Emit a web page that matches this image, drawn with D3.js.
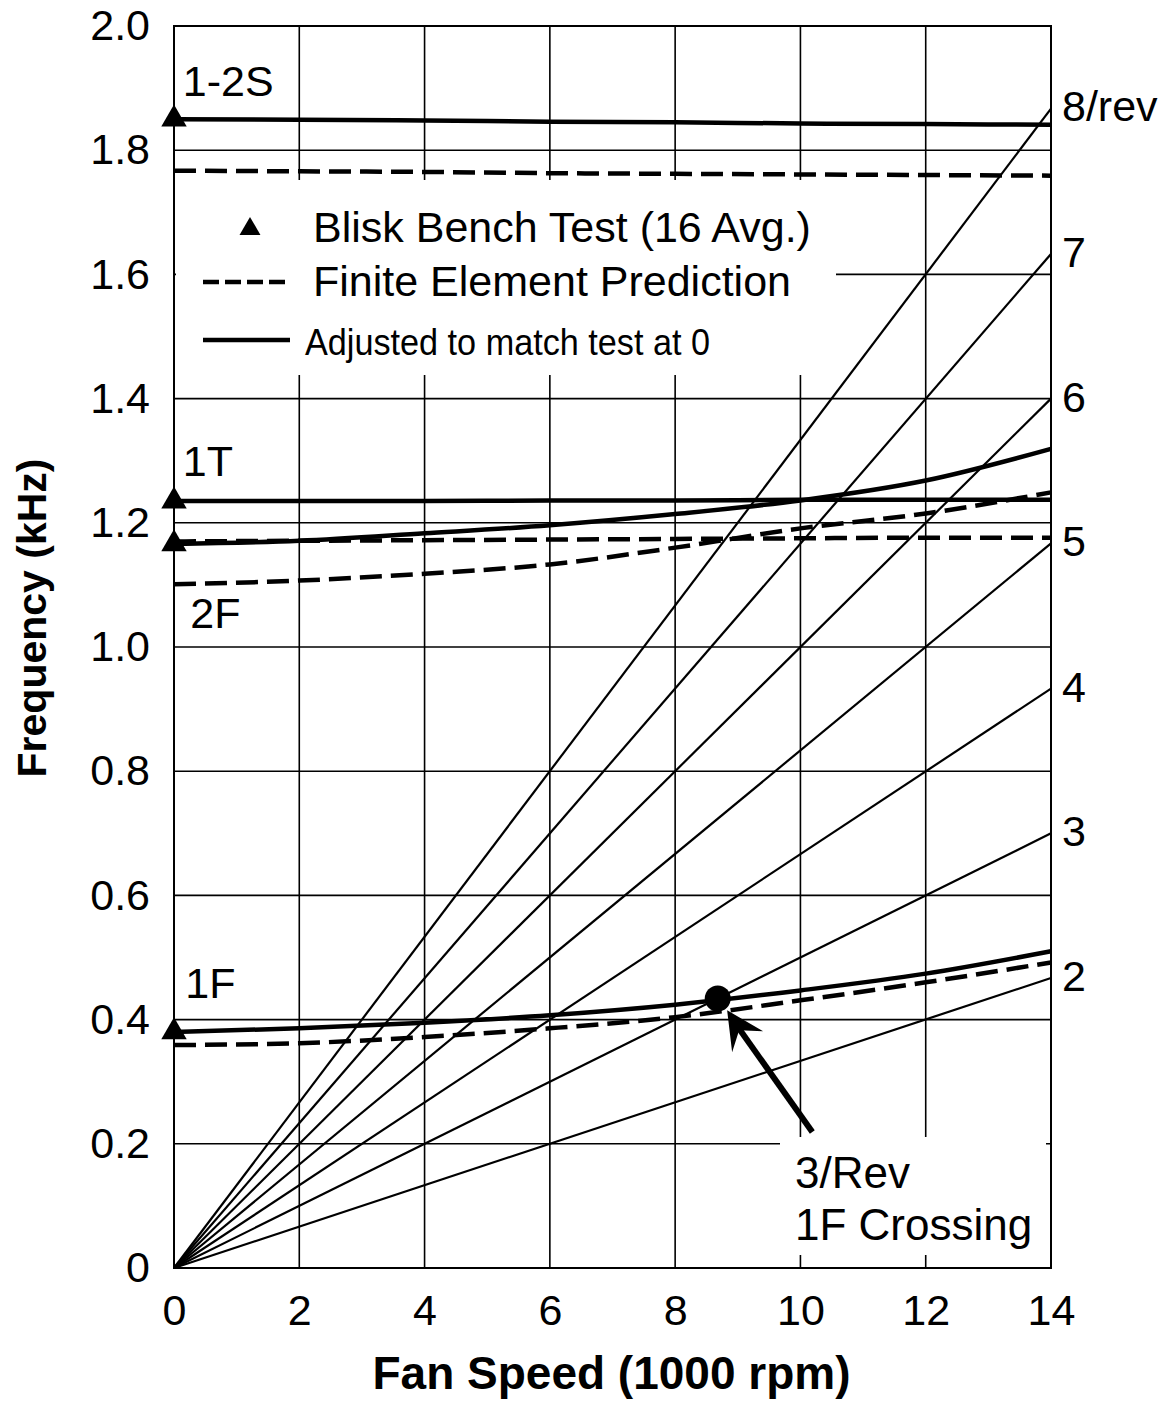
<!DOCTYPE html>
<html>
<head>
<meta charset="utf-8">
<script src="https://cdn.jsdelivr.net/npm/d3@7"></script>
<style>
body { margin: 0; background: #fff; }
text { font-family: Arial, "Liberation Sans", sans-serif; fill: #000; }
</style>
</head>
<body>
<div id="chart"></div>
<script>
// fan speed (1000 rpm) where the mode curves were read
var speeds = [0, 2, 4, 6, 8, 10, 12, 14];

// adjusted (solid) and finite element (dashed) curves, kHz
var s12Adj = [1.850, 1.849, 1.848, 1.846, 1.845, 1.843, 1.842, 1.841];
var s12Fe  = [1.767, 1.766, 1.765, 1.763, 1.762, 1.761, 1.760, 1.759];
var t1Adj  = [1.235, 1.235, 1.235, 1.236, 1.236, 1.237, 1.237, 1.237];
var t1Fe   = [1.170, 1.171, 1.172, 1.173, 1.174, 1.175, 1.176, 1.176];
var f2Adj  = [1.166, 1.171, 1.183, 1.196, 1.214, 1.236, 1.268, 1.319];
var f2Fe   = [1.101, 1.107, 1.118, 1.133, 1.160, 1.191, 1.215, 1.249];
var f1Adj  = [0.380, 0.386, 0.395, 0.407, 0.424, 0.447, 0.474, 0.510];
var f1Fe   = [0.359, 0.362, 0.372, 0.386, 0.404, 0.431, 0.460, 0.492];

// bench test values at 0 rpm
var testModes = ['1-2S', '1T', '2F', '1F'];
var testFreq = [1.850, 1.235, 1.166, 0.380];

// engine order lines, value at 14000 rpm
var revOrders = ['2', '3', '4', '5', '6', '7', '8/rev'];
var revEnd = [0.467, 0.700, 0.933, 1.167, 1.400, 1.633, 1.867];

// 3/rev 1F crossing
var crossing = [8.68, 0.434];
var arrowTip = [8.83, 0.415];
var arrowTail = [10.19, 0.219];

var xTicks = [0, 2, 4, 6, 8, 10, 12, 14];
var yTicks = [0, 0.2, 0.4, 0.6, 0.8, 1.0, 1.2, 1.4, 1.6, 1.8, 2.0];

var margin = { top: 26, right: 118, bottom: 133, left: 174 },
  width = 1169 - margin.left - margin.right,
  height = 1401 - margin.top - margin.bottom;

var svg = d3.select('#chart').append('svg')
  .attr('width', 1169)
  .attr('height', 1401)
  .style('background', '#fff');

var chart = svg.append('g')
  .attr('transform', 'translate(' + margin.left + ',' + margin.top + ')');

var xScale = d3.scaleLinear().domain([0, 14]).range([0, width]);
var yScale = d3.scaleLinear().domain([0, 2]).range([height, 0]);

// grid
chart.append('g')
  .selectAll('line.v').data(xTicks).enter().append('line')
  .attr('x1', function(d) { return xScale(d); })
  .attr('x2', function(d) { return xScale(d); })
  .attr('y1', 0).attr('y2', height)
  .style('stroke', '#000').style('stroke-width', 1.6);

chart.append('g')
  .selectAll('line.h').data(yTicks).enter().append('line')
  .attr('x1', 0).attr('x2', width)
  .attr('y1', function(d) { return yScale(d); })
  .attr('y2', function(d) { return yScale(d); })
  .style('stroke', '#000').style('stroke-width', 1.6);

// axes (labels only)
var yAxis = chart.append('g')
  .call(d3.axisLeft(yScale).tickValues(yTicks).tickSize(0).tickPadding(24)
    .tickFormat(function(d) { return d === 0 ? '0' : d3.format('.1f')(d); }));
var xAxis = chart.append('g')
  .attr('transform', 'translate(0,' + height + ')')
  .call(d3.axisBottom(xScale).tickValues(xTicks).tickSize(0).tickPadding(26));
[xAxis, yAxis].forEach(function(a) {
  a.select('.domain').remove();
  a.selectAll('text').style('font-size', '43px').style('font-family', 'Arial, "Liberation Sans", sans-serif');
});

// engine order lines
chart.selectAll('line.rev').data(revEnd).enter().append('line')
  .attr('x1', xScale(0)).attr('y1', yScale(0))
  .attr('x2', xScale(14))
  .attr('y2', function(d) { return yScale(d); })
  .style('stroke', '#000').style('stroke-width', 2.2);

chart.selectAll('text.rev').data(revEnd).enter().append('text')
  .attr('x', width + 11)
  .attr('y', function(d) { return yScale(d); })
  .attr('dy', '0.3em')
  .style('font-size', '43px')
  .text(function(d, i) { return revOrders[i]; });

// white boxes behind the legend and the note
chart.append('rect')
  .attr('x', 2).attr('y', 154).attr('width', 660).attr('height', 195)
  .style('fill', '#fff');
chart.append('rect')
  .attr('x', 606).attr('y', 1111).attr('width', 266).attr('height', 118)
  .style('fill', '#fff');

// mode curves
var line = d3.line()
  .x(function(d, i) { return xScale(speeds[i]); })
  .y(function(d) { return yScale(d); })
  .curve(d3.curveMonotoneX);

[s12Fe, t1Fe, f2Fe, f1Fe].forEach(function(s) {
  chart.append('path').attr('d', line(s))
    .style('fill', 'none').style('stroke', '#000')
    .style('stroke-width', 4.5).style('stroke-dasharray', '22,9');
});
[s12Adj, t1Adj, f2Adj, f1Adj].forEach(function(s) {
  chart.append('path').attr('d', line(s))
    .style('fill', 'none').style('stroke', '#000')
    .style('stroke-width', 4.5);
});

// test triangles
var tri = d3.symbol().type(d3.symbolTriangle).size(280);
chart.selectAll('path.test').data(testFreq).enter().append('path')
  .attr('d', tri)
  .attr('transform', function(d) { return 'translate(' + xScale(0) + ',' + yScale(d) + ')'; })
  .style('fill', '#000');

// mode names
chart.append('text').attr('x', xScale(0.14)).attr('y', yScale(1.888)).style('font-size', '43px').text(testModes[0]);
chart.append('text').attr('x', xScale(0.14)).attr('y', yScale(1.276)).style('font-size', '43px').text(testModes[1]);
chart.append('text').attr('x', xScale(0.26)).attr('y', yScale(1.031)).style('font-size', '43px').text(testModes[2]);
chart.append('text').attr('x', xScale(0.18)).attr('y', yScale(0.434)).style('font-size', '43px').text(testModes[3]);

// crossing marker and arrow
chart.append('circle')
  .attr('cx', xScale(crossing[0])).attr('cy', yScale(crossing[1]))
  .attr('r', 13).style('fill', '#000');

var tx = xScale(arrowTip[0]), ty = yScale(arrowTip[1]);
var ex = xScale(arrowTail[0]), ey = yScale(arrowTail[1]);
chart.append('line')
  .attr('x1', tx + 6).attr('y1', ty + 10).attr('x2', ex).attr('y2', ey)
  .style('stroke', '#000').style('stroke-width', 6);
chart.append('path')
  .attr('d', 'M' + tx + ',' + ty + 'L' + (tx + 5) + ',' + (ty + 42) + 'L' + (tx + 12) + ',' + (ty + 20) + 'L' + (tx + 36) + ',' + (ty + 21) + 'Z')
  .style('fill', '#000');

chart.append('text').attr('x', 621).attr('y', 1162).style('font-size', '44px').text('3/Rev');
chart.append('text').attr('x', 621).attr('y', 1214).style('font-size', '44px').text('1F Crossing');

// legend
var legend = chart.append('g').attr('transform', 'translate(0,0)');
legend.append('path')
  .attr('d', d3.symbol().type(d3.symbolTriangle).size(190))
  .attr('transform', 'translate(76,203)')
  .style('fill', '#000');
legend.append('text').attr('x', 139).attr('y', 216).style('font-size', '43px').text('Blisk Bench Test (16 Avg.)');
legend.append('line').attr('x1', 29).attr('x2', 116).attr('y1', 256).attr('y2', 256)
  .style('stroke', '#000').style('stroke-width', 4.5).style('stroke-dasharray', '16,6');
legend.append('text').attr('x', 139).attr('y', 270).style('font-size', '43px').text('Finite Element Prediction');
legend.append('line').attr('x1', 29).attr('x2', 116).attr('y1', 314).attr('y2', 314)
  .style('stroke', '#000').style('stroke-width', 4.5);
legend.append('text').attr('x', 131).attr('y', 329)
  .attr('textLength', 405).attr('lengthAdjust', 'spacingAndGlyphs')
  .style('font-size', '37px').style('font-family', '"Liberation Sans Narrow", "Arial Narrow", Arial, sans-serif')
  .text('Adjusted to match test at 0');

// frame
chart.append('rect')
  .attr('width', width).attr('height', height)
  .style('fill', 'none').style('stroke', '#000').style('stroke-width', 2);

// axis titles
svg.append('text')
  .attr('x', margin.left + width / 2 - 1).attr('y', 1389)
  .attr('text-anchor', 'middle')
  .style('font-size', '46px').style('font-weight', 'bold')
  .text('Fan Speed (1000 rpm)');
svg.append('text')
  .attr('transform', 'translate(46,618)rotate(-90)')
  .attr('text-anchor', 'middle')
  .style('font-size', '41px').style('font-weight', 'bold')
  .text('Frequency (kHz)');
</script>
</body>
</html>
